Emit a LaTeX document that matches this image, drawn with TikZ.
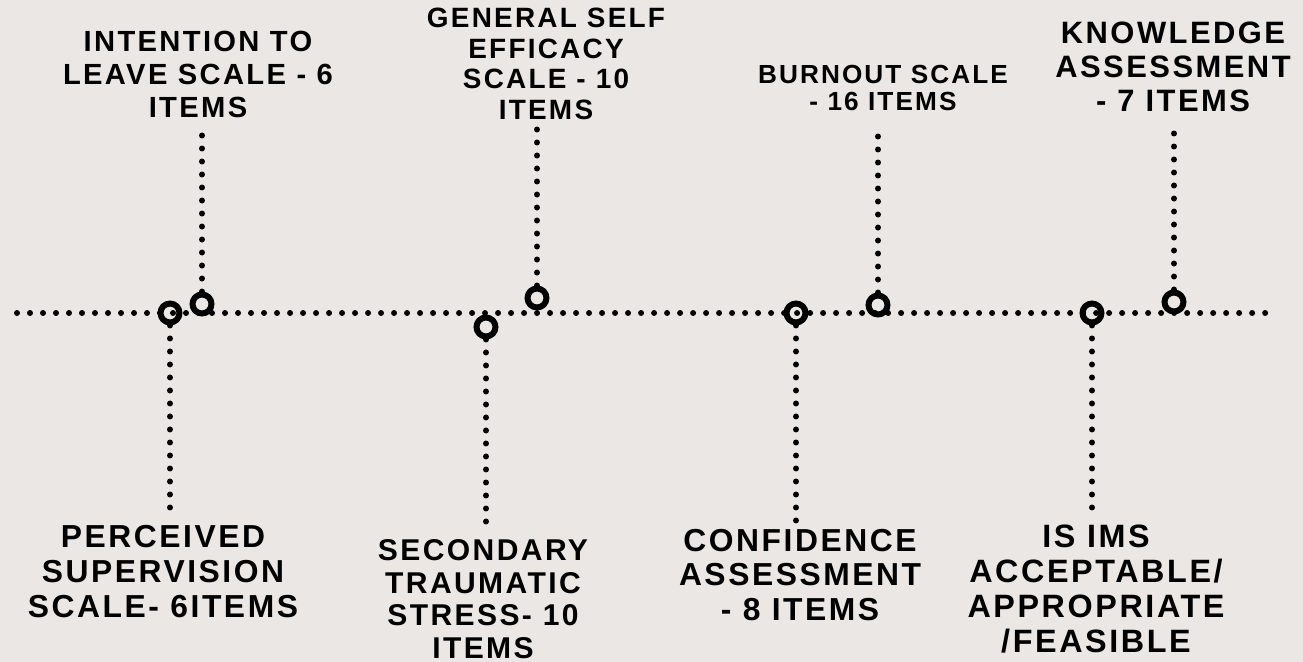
\documentclass[tikz,border=0pt]{standalone}
\usepackage{fontspec}
\newfontfamily\lblfont[LetterSpace=8]{Liberation Sans}
\definecolor{paper}{RGB}{235,231,229}
\tikzstyle{dots} = [line width=3.4pt, line cap=round, dash pattern=on 0pt off 7.4pt]
\tikzstyle{ring} = [circle, draw, line width=3.4pt, minimum size=10.8pt, inner sep=0pt]
\tikzstyle{lbltext} = [align=center, inner sep=5pt, text=black]

\begin{document}
\begin{tikzpicture}[x=0.02cm, y=-0.02cm]
        \fill[paper] (0,0) rectangle (1303,662);
        \useasboundingbox (0,0) rectangle (1303,662);

        % timeline
        \coordinate (start) at (17,313);
        \coordinate (end) at (1268,313);
        \draw[dots] (start) -- (end);

        % markers
        \node[ring] (m1) at (170,313) {};
        \node[ring] (m2) at (202,304) {};
        \node[ring] (m3) at (486,327) {};
        \node[ring] (m4) at (537,298) {};
        \node[ring] (m5) at (796,313) {};
        \node[ring] (m6) at (878,305) {};
        \node[ring] (m7) at (1092,313) {};
        \node[ring] (m8) at (1174,302) {};

        % labels
        \node[lbltext, font=\lblfont\bfseries\fontsize{18.1}{19.9}\selectfont] (l1) at (163,572)
        {PERCEIVED\\SUPERVISION\\SCALE- 6ITEMS};
        \node[lbltext, font=\lblfont\bfseries\fontsize{16.6}{18.8}\selectfont] (l2) at (198,74)
        {INTENTION TO\\LEAVE SCALE - 6\\ITEMS};
        \node[lbltext, font=\lblfont\bfseries\fontsize{17.1}{18.5}\selectfont] (l3) at (483,599)
        {SECONDARY\\TRAUMATIC\\STRESS- 10\\ITEMS};
        \node[lbltext, font=\lblfont\bfseries\fontsize{15.9}{17.4}\selectfont] (l4) at (546,64)
        {GENERAL SELF\\EFFICACY\\SCALE - 10\\ITEMS};
        \node[lbltext, font=\lblfont\bfseries\fontsize{18.1}{19.4}\selectfont] (l5) at (800,575)
        {CONFIDENCE\\ASSESSMENT\\- 8 ITEMS};
        \node[lbltext, font=\lblfont\bfseries\fontsize{14.9}{15.9}\selectfont] (l6) at (883,88)
        {BURNOUT SCALE\\- 16 ITEMS};
        \node[lbltext, font=\lblfont\bfseries\fontsize{18.4}{19.9}\selectfont] (l7) at (1096,589)
        {IS IMS\\ACCEPTABLE/\\APPROPRIATE\\/FEASIBLE};
        \node[lbltext, font=\lblfont\bfseries\fontsize{17.6}{19.3}\selectfont] (l8) at (1173,67)
        {KNOWLEDGE\\ASSESSMENT\\- 7 ITEMS};

        % stems
        \draw[dots] (m1) -- (m1 |- l1.north);
        \draw[dots] (m2) -- (m2 |- l2.south);
        \draw[dots] (m3) -- (m3 |- l3.north);
        \draw[dots] (m4) -- (m4 |- l4.south);
        \draw[dots] (m5) -- (m5 |- l5.north);
        \draw[dots, shorten >=4.5pt] (m6) -- (m6 |- l6.south);
        \draw[dots] (m7) -- (m7 |- l7.north);
        \draw[dots, shorten >=4.5pt] (m8) -- (m8 |- l8.south);
\end{tikzpicture}
\end{document}
